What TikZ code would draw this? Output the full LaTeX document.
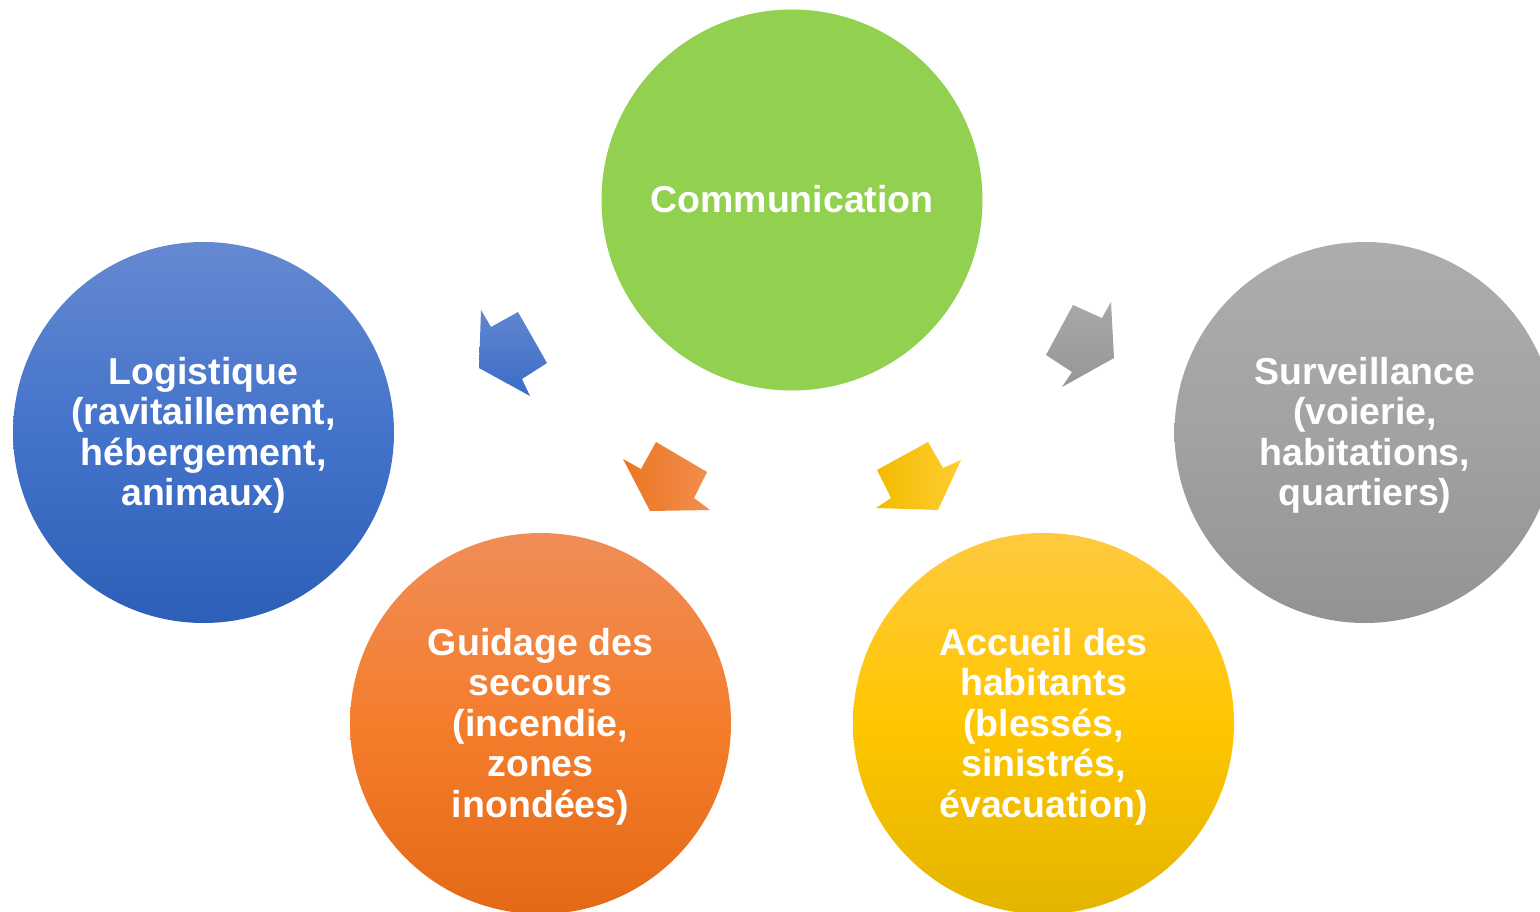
\documentclass[tikz,border=0pt]{standalone}
\usepackage{fontspec}
\setmainfont{Liberation Sans}
\definecolor{cgreen}{RGB}{146,208,80}
\definecolor{bluetop}{RGB}{101,137,209}
\definecolor{bluemid}{RGB}{67,115,202}
\definecolor{bluebot}{RGB}{46,95,184}
\definecolor{orgtop}{RGB}{240,141,88}
\definecolor{orgmid}{RGB}{244,125,44}
\definecolor{orgbot}{RGB}{228,105,22}
\definecolor{yeltop}{RGB}{255,201,63}
\definecolor{yelmid}{RGB}{255,198,0}
\definecolor{yelbot}{RGB}{227,180,0}
\definecolor{graytop}{RGB}{173,173,173}
\definecolor{graymid}{RGB}{162,162,162}
\definecolor{graybot}{RGB}{147,147,147}
\definecolor{barblue1}{RGB}{98,134,208}
\definecolor{barblue2}{RGB}{58,108,198}
\definecolor{bargray1}{RGB}{168,168,168}
\definecolor{bargray2}{RGB}{150,150,150}
\definecolor{barorg1}{RGB}{234,118,34}
\definecolor{barorg2}{RGB}{243,142,78}
\definecolor{baryel1}{RGB}{242,186,0}
\definecolor{baryel2}{RGB}{255,205,50}
\begin{document}
\begin{tikzpicture}[x=1pt,y=-1pt,
  bubble/.style={circle, minimum size=381pt, inner sep=0pt},
  bubbletext/.style={text=white, align=center, inner sep=0pt, yshift=-3pt,
    font=\fontsize{37.5}{40.5}\selectfont\bfseries},
  arrowshape/.style={draw=none}]
\useasboundingbox (0,0) rectangle (1540,912);
\clip (0,0) rectangle (1540,912);
\node[bubble, fill=cgreen, label={[bubbletext, yshift=4pt]center:Communication}] (comm) at (792,200) {};
\node[bubble, top color=bluetop, bottom color=bluebot, middle color=bluemid,
  label={[bubbletext]center:{Logistique\\(ravitaillement,\\hébergement,\\animaux)}}] (logi) at (203.5,432.5) {};
\node[bubble, top color=graytop, bottom color=graybot, middle color=graymid,
  label={[bubbletext]center:{Surveillance\\(voierie,\\habitations,\\quartiers)}}] (surv) at (1365,432.5) {};
\node[bubble, top color=orgtop, bottom color=orgbot, middle color=orgmid,
  label={[bubbletext]center:{Guidage des\\secours\\(incendie,\\zones\\inondées)}}] (guid) at (540.5,723.5) {};
\node[bubble, top color=yeltop, bottom color=yelbot, middle color=yelmid,
  label={[bubbletext]center:{Accueil des\\habitants\\(blessés,\\sinistrés,\\évacuation)}}] (accu) at (1043.5,723.5) {};
% arrows
\path[arrowshape, top color=barblue1, bottom color=barblue2]
  (481,310) -- (491,327) -- (518,312) -- (547,363) -- (522,379) -- (530,396) -- (479,368) -- cycle;
\path[arrowshape, top color=bargray1, bottom color=bargray2]
  (1073,305) -- (1102,318) -- (1111,302) -- (1114,358) -- (1062,387) -- (1072,372) -- (1046,355) -- cycle;
\path[arrowshape, left color=barorg1, right color=barorg2]
  (623,459) -- (641,469) -- (656,442) -- (707,472) -- (694,498) -- (710,510) -- (650,511) -- cycle;
\path[arrowshape, left color=baryel1, right color=baryel2]
  (928,442) -- (943,468) -- (961,460) -- (938,510) -- (876,508) -- (891,498) -- (877,470) -- cycle;
\end{tikzpicture}
\end{document}
